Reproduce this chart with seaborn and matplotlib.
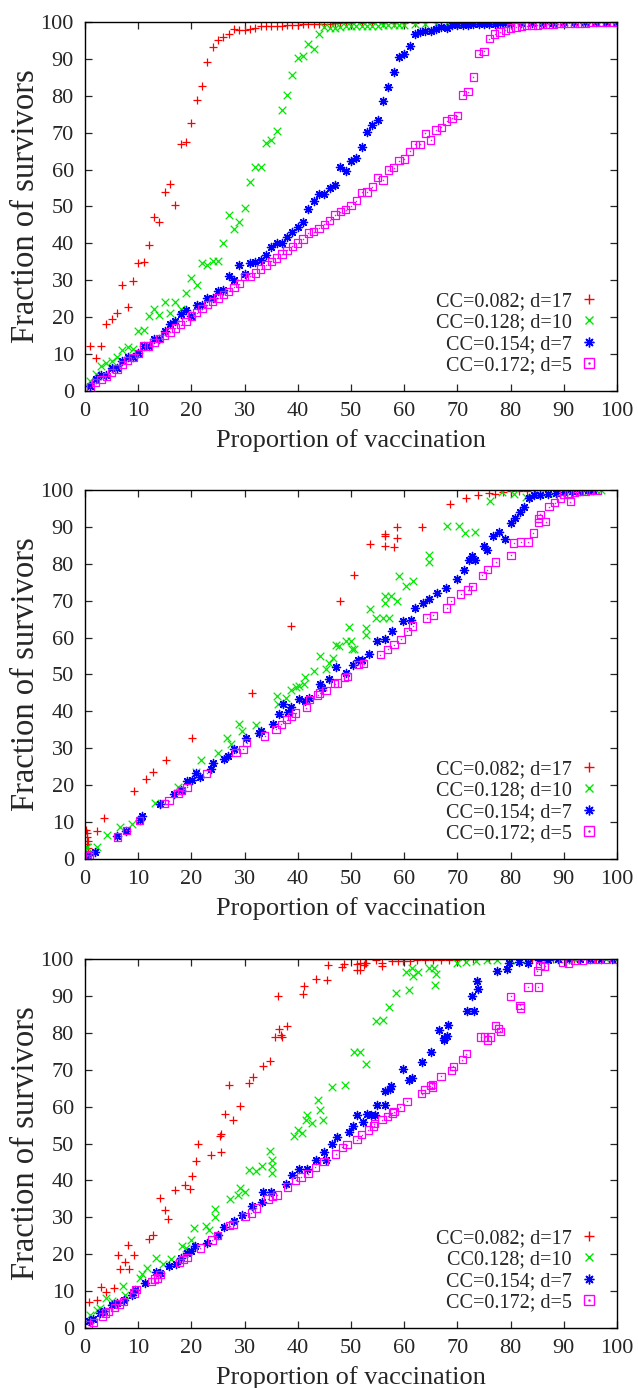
import matplotlib
matplotlib.use("Agg")
import matplotlib.pyplot as plt
from matplotlib.lines import Line2D
from matplotlib.legend_handler import HandlerTuple
import seaborn as sns

# ---- panel 1 ----
p1_red_x = [1,2,3,4,5,6,7,8,9,10,11,12,13,14,15,16,17,18,19,20,21,22,23,24,25,26,27,28,29,30,
            31,32,33,34,35,36,37,38,39,40,41,42,43,44,45,46,47,48,49,50,52,54,56,58,60,62,64,66,68,70,
            72,74,76,78,80,82,84,86,88,90,92,94,96,98,100]
p1_red_y = [12.2,9,12.2,18.2,19.4,21.2,28.8,22.8,29.7,34.7,35,39.5,47.1,45.9,53.8,56,50.5,66.9,67.6,72.5,
            78.8,82.6,89.2,93.2,95,95.9,96.6,98,97.7,97.7,98,98.4,98.8,98.8,98.8,99,99,99.2,99.2,99.2,
            99.4,99.4,99.4,99.5,99.5,99.5,99.6,99.6,99.6,99.7,99.7,99.7,99.8,99.8,99.8,99.8,99.9,99.9,99.9,99.9,
            99.9,99.9,100,100,100,100,100,100,100,100,100,100,100,100,100]

p1_green_x = [1,2,3,4,5,6,7,8,9,10,11,12,13,14,15,16,17,18,19,20,21,22,23,24,25,26,27,28,29,30,
              31,32,33,34,35,36,37,38,39,40,41,42,43,44,45,46,47,48,49,50,51,52,53,54,55,56,57,58,59,60,
              62,64,66,68,70,72,74,76,78,80,82,84,86,88,90,92,94,96,98,100]
p1_green_y = [2.7,4.5,6.8,7.7,8.1,9.2,11,12,11.4,16.2,16.4,20.3,22.1,20.5,24.1,21.2,24.1,22.3,26.6,30.6,
              28.6,34.7,34.2,35.3,35.3,40.1,47.7,43.9,45.8,49.5,56.5,60.8,60.8,67.1,68,70.5,76.1,80.2,85.6,90.1,
              90.7,94.1,92.8,96.6,98.6,98.4,98.4,98.6,98.9,98.9,99,99,99,99,99,99.1,99.1,99.2,99.2,99.3,
              99.4,99.5,99.5,99.6,99.7,99.7,99.8,99.8,99.9,99.9,99.9,100,100,100,100,100,100,100,100,100]

p1_blue_x = [1,2,3,4,5,6,7,8,9,10,11,12,13,14,15,16,17,18,19,20,21,22,23,24,25,26,27,28,29,30,
             31,32,33,34,35,36,37,38,39,40,41,42,43,44,45,46,47,48,49,50,51,52,53,54,55,56,57,58,59,60,
             61,62,63,64,65,66,67,68,69,70,71,72,73,74,75,76,77,78,79,80,82,84,86,88,90,92,94,96,98,100]
p1_blue_y = [1.4,3.2,4.2,4.2,6.1,6.1,8.1,9.3,9.3,10.4,12.3,12.3,14.2,14.2,16.2,18.2,19.1,20.9,21.9,20.3,
             23.2,23.2,25.2,25.2,27,27.5,31.1,30.2,34.1,31.8,34.7,35,35.6,36.8,39,40.1,40.1,41.6,43.2,44.4,
             45.9,49.3,51.6,53.4,53.4,55.1,55.9,60.6,59.7,62.4,63,66,70.3,72.1,73.3,78.6,82.4,86.5,90.4,91.2,
             93.5,96.8,97.3,97.5,97.6,98.2,98.6,98.4,99.1,99.2,99.3,99.3,99.4,99.4,99.5,99.5,99.5,99.6,99.6,99.6,
             99.7,99.7,99.8,99.8,99.9,99.9,99.9,100,100,100]

p1_mag_x = [1,2,3,4,5,6,7,8,9,10,11,12,13,14,15,16,17,18,19,20,21,22,23,24,25,26,27,28,29,30,
            31,32,33,34,35,36,37,38,39,40,41,42,43,44,45,46,47,48,49,50,51,52,53,54,55,56,57,58,59,60,
            61,62,63,64,65,66,67,68,69,70,71,72,73,74,75,76,77,78,79,80,81,82,83,84,85,86,87,88,89,90,
            91,92,93,94,95,96,97,98,99,100]
p1_mag_y = [1.1,2.3,3.2,4,5.1,6,7.2,8.3,9,10.1,12.2,12.2,13.2,14.2,15.1,16,17.1,18,18.9,20.3,
            21.2,22.3,23.4,24.3,25.2,26.1,27,28.1,29.1,31.1,31.1,32,33.1,34.1,35.1,36,37.1,38.1,39.2,40.1,
            41.2,42.8,43.2,44.1,45.2,46.2,47.7,48.6,49.1,50.2,51.6,53.8,53.9,55.4,57.8,57.2,59.9,60.5,62.4,62.9,
            64.9,66.8,66.8,69.8,68,70.7,71.4,73.2,73.9,74.6,80.2,81.1,85.1,91.4,92,95.5,96.7,97.3,97.7,98.4,
            98.6,98.8,99,99.1,99.2,99.3,99.4,99.4,99.5,99.5,99.6,99.6,99.7,99.7,99.8,99.8,99.9,99.9,100,100]

# ---- panel 2 ----
p2_red_x = [0.2,0.3,0.4,0.5,0.3,0.5,0.6,2.3,3.6,9.2,11.4,12.7,15.3,20.1,31.4,38.8,47.9,50.6,53.6,56.3,
            56.3,56.3,58.1,58.6,58.6,63.4,68.6,71.6,73.8,75.9,77,78.5,80,81.5,83,84.5,86]
p2_red_y = [8,7,6,5,4,3,2,7.7,11,18.5,21.6,23.7,26.8,32.7,45,63.1,70,77,85.3,84.9,
            87.4,88,84.5,87,89.9,90.1,96.1,97.9,98.6,99.1,98.9,99.4,99.6,99.7,99.8,99.9,100]

p2_green_x = [0,0.3,2.2,4.2,6.6,8.9,13.1,17.5,20.9,21.9,25,26.6,27.5,28.9,29.6,32.2,36.1,36.2,37.8,38.75,
              39.7,40.3,41.1,41.4,43.1,44.2,45.3,45.9,46.6,47.2,47.8,49.1,49.7,50.2,50,50.5,52.8,52.8,53.6,54.7,
              56,57.2,56.3,56.3,57.6,58.6,59.1,60.4,61.6,64.7,64.7,68.1,70.3,71.4,73.3,76.1,78.4,80.6,82.8,85.6,
              87,88.5,90,91.5,93,94.5,96,96.9]
p2_green_y = [2.3,3.2,3.3,6.6,8.7,9.6,15.3,19.4,23.7,26.8,28.8,32.9,31.3,36.5,34.7,36.3,44.1,41.9,43.7,45.7,
              46.6,46.8,47.5,49.3,50.9,55,51.4,53.2,54.5,58.1,57.7,59,62.8,56.8,59,56.8,62.6,60.8,67.8,65.3,
              65.3,65.3,69.4,71.2,71.2,69.8,76.6,74,75.4,82.3,80.5,90.2,90.2,88.3,88.7,97.1,99.4,98.9,98,98.9,
              99.2,99.3,99.5,99.6,99.7,99.8,99.9,100]

p2_blue_x = [0,0.3,1.9,6.1,7.8,10.3,10.8,14.1,16.7,18,19.1,20.2,20.9,21.7,23.6,24.1,26.1,26.9,28.1,30.2,
             32.8,33.1,35.3,36.4,37.2,38.1,38.75,40.3,41.3,42.2,44.1,44.6,45.8,47.2,49.1,50.3,51.25,52.1,53.4,54.9,
             56.3,57.8,59.7,61.3,62,63.6,64.7,66.2,67.9,69.9,71.3,72.25,72.8,73.4,75,75.5,76.75,77.8,78.9,80.1,
             80.9,81.75,82.5,83.4,84.4,85.6,87,88.5,90,91.5,93,94.5,95.5]
p2_blue_y = [0.5,0.9,2,6.3,7.7,10.5,11.7,15,17.7,18.6,21.2,21.4,23.4,22.1,24.5,26.1,27,27.9,29.9,32.7,
             34.2,34.7,36.5,39.4,41.9,39.9,41.2,43.4,42.8,43.7,47.5,46.4,48.9,51.9,50.5,52.7,53.8,53.8,55.6,59.2,
             59.5,61.7,64.4,64.9,67.9,69.4,70.5,72.1,73.4,75.9,78.2,81.1,82,81.1,84.7,83.8,87.4,88.5,86.7,91,
             92.3,94.1,95.5,97.7,98.6,98.6,99,99.2,99.4,99.6,99.8,99.9,100]

p2_mag_x = [0,0.4,0.9,6.1,7.8,10.2,15,15.8,17.5,18.1,19.2,22.9,28.4,29.7,30.4,33.8,35.9,36.9,37.9,38.8,
            39.6,41.6,42.2,43.75,44.1,45.3,46.9,47.5,48.75,49.4,51.4,52.4,55.5,56.9,58.1,59.4,60.6,61.6,64.25,65.5,
            68,68.75,70.6,71.9,72.8,74.7,75.6,77.2,80.1,80.6,81.9,83.25,84.25,85.2,86.6,85.3,85.6,87.2,88.3,89.4,
            91.25,90,91,92,93,94,95,96.25]
p2_mag_y = [0,0.9,1.1,6,7.8,10.4,15,15.8,17.7,18.5,19.4,23.2,28.8,29.7,31.5,33.3,35.1,36.5,37.8,38.7,
            39.6,41,43.2,44.4,45,45.7,47.5,47.7,49.1,49.5,52.7,52.9,55.4,56.8,58.1,59.5,61.7,63.1,65.3,66,
            68,70,71.8,72.9,73.9,76.9,78.4,80.5,82.3,85.6,85.9,85.9,88.3,91.2,91.4,92.3,93.4,95.5,96.6,97.7,
            96.8,98.9,99.2,99.4,99.6,99.7,99.9,100]

# ---- panel 3 ----
p3_red_x = [0.8,2.2,3.1,3.9,5.5,6.25,6.6,7.6,8.1,8.3,9.2,12,12.8,14.1,15.1,15.6,17,18.75,19.7,20.2,
            20.9,21.25,23.75,25.4,25.5,25.6,26.4,27,27.9,29.2,30.8,31.6,33.4,34.8,35.75,36.4,36.75,37.1,38,36.25,
            40.9,41.1,43.4,45.4,45.6,48.3,48.75,51.1,51.1,52.4,52.7,51.6,51.6,52.8,54.7,55.9,55.9,57.8,58.8,59.7,
            61,62.5,64,65.5,67,68.5,70,71.5,73,76,80,84,88,92,96,100]
p3_red_y = [7,7.5,11.1,9.8,10.8,19.9,16.1,17.8,22.4,16.1,19.7,24.2,25.3,35.2,32.1,29.6,37.5,38.8,37.7,41.3,
            45.3,50,47,52.1,52.7,47.6,58.1,65.8,56.5,60.1,66.4,67.9,70.9,72.4,78.9,80.9,79.5,78.8,81.9,90.1,
            90.6,92.6,94.6,94.2,98.3,97.9,98.6,98.7,96.9,98.4,98.9,98.9,97.1,98.9,99.8,98.9,98.2,99.4,99.4,99.4,
            99.5,99.6,99.6,99.7,99.7,99.8,99.8,99.9,99.9,100,100,100,100,100,100,100]

p3_green_x = [0.9,2.2,2.9,3.9,5,7.1,7.5,10.3,10.8,11.6,13.3,14.6,16.1,18.3,18.9,20,20.4,22.7,23.3,24.4,
              24.5,27.3,28.75,29.1,30,30.8,32.1,33.25,34.7,35.1,35.1,35.1,39.25,40,40.8,41.75,41.6,42.6,44.25,44.7,
              43.75,46.4,48.9,50.6,51.6,52.8,54.7,56.1,57.2,58.4,60.9,60.3,61.4,61.6,62.6,64.7,65.6,65.9,65.75,70,
              71.6,73.5,75.5,77.5,80,83,86,89,92,95,98,100]
p3_green_y = [3.4,5,5.4,8.1,7.4,11.3,9,13.6,14.7,16.3,19,17.4,18.8,22.1,21.7,23.8,27.1,27.7,26.6,30.1,
              32.2,35,36.1,37.9,36.9,42.7,42.5,43.8,48.1,45.4,43.8,42,52.1,53.7,52.8,57.8,56.3,55.6,59,56.5,
              61.7,65.3,65.8,74.7,74.7,71.6,83.1,83.4,87,90.8,91.5,96.4,97.6,95.3,96.6,97.6,97.6,96,93,98.9,
              99.3,99.5,99.6,99.8,99.8,99.9,99.9,100,100,100,100,100]

p3_blue_x = [0.8,1.6,2.8,3.6,5,6.1,7.3,8.9,9.4,11.25,13.3,14.1,15.8,17.2,18.1,19.2,20,20.6,22.9,25,
             26.1,28,29.6,31.4,33.3,33.4,35,37.8,38.9,40.3,41.75,43.4,45,45.3,46.4,47.4,49.6,50.4,51.1,52.3,
             53,53.75,54.6,54.9,56.4,56.4,57.4,57.6,59.7,60.9,61.4,63.3,65,66.6,67.5,68.1,68.25,67.4,71.75,73.1,
             72.7,73.9,73.75,77.5,79.4,79.7,81.6,83.25,85.3,87,89,91,93,95,97,99]
p3_blue_y = [1.8,2.4,4.1,4.5,6.3,6.8,7.7,9,10.4,12.2,15.1,14.9,16.9,17.3,19,20.3,21,22.3,23,25.3,
             27.4,28.9,30.5,33,34.1,36.8,36.8,39,41.6,43.2,43.1,45.6,47.6,45.6,50,51.8,53.1,54.7,57.8,55.8,
             58.1,57.8,57.8,60.5,60.5,64.1,64.8,65.5,70.2,67.1,67.8,72,74.7,80.7,78.6,79.2,82.2,78,85.8,85.8,
             89.9,91.9,94.1,96.7,97.3,98.9,99.1,98.9,99.8,99.8,99.9,99.9,100,100,100,100]

p3_mag_x = [0.6,1.6,3.3,3.9,4.4,5.6,6.4,7.2,9.2,9.6,12.5,13.1,13.6,14.1,17.8,18.4,19.2,21.7,23.9,24.9,
            27.2,27.8,30.1,31.25,32.2,34.4,35.2,36.1,38.1,39.6,40.6,41.9,43.3,44.9,47.1,48.4,49.25,51.1,52,53.25,
            54.25,54.4,55.8,56.9,57.8,58.1,59.25,60.5,63.3,63.9,64.9,65.3,65.3,66.9,68.9,69.25,70.9,71.7,74.4,75.1,
            75.7,76.25,77.2,77.7,78.1,80,81.75,81.9,83.3,85.2,85,85.5,86.4,89.7,90.9,92,93.5,95,96.5,98,100]
p3_mag_y = [0.9,1.5,3.2,4.1,4.5,5.6,6.5,7.2,9.5,10.4,12.6,13.3,13.6,14.5,17.8,18.5,19.2,21.7,23.9,25,
            27.7,28,30.3,31.2,32.5,35,35.7,36,38.2,40,40.9,41.8,43.5,45.2,47.2,49,49.7,51,52.4,53.7,
            54.7,55.4,56.5,57.4,58.3,58.6,59.8,61.4,63.5,64.6,65.7,66,65.3,68.2,69.8,70.9,72.7,74.3,78.9,78.9,
            78,78.9,82,81.2,80.4,89.9,87.4,86.7,92.4,92.4,96.7,98.3,98,99.1,98.9,99.5,99.6,99.8,99.9,100,100]

labels_a = ["CC=0.082; d=17", "CC=0.128; d=10", "CC=0.154; d=7", "CC=0.172; d=5"]
labels_c = ["CC=0.082; d=17", "CC0.128; d=10", "CC=0.154; d=7", "CC=0.172; d=5"]

panels = [
    [(p1_red_x, p1_red_y), (p1_green_x, p1_green_y), (p1_blue_x, p1_blue_y), (p1_mag_x, p1_mag_y), labels_a],
    [(p2_red_x, p2_red_y), (p2_green_x, p2_green_y), (p2_blue_x, p2_blue_y), (p2_mag_x, p2_mag_y), labels_a],
    [(p3_red_x, p3_red_y), (p3_green_x, p3_green_y), (p3_blue_x, p3_blue_y), (p3_mag_x, p3_mag_y), labels_c],
]

sns.set_style("ticks")
plt.rcParams["font.family"] = ["Liberation Serif", "DejaVu Serif"]
plt.rcParams["xtick.direction"] = "in"
plt.rcParams["ytick.direction"] = "in"
plt.rcParams["axes.linewidth"] = 1.0

RED = "#ff0000"
GREEN = "#00e600"
BLUE = "#0000ff"
MAG = "#ff00ff"
ASTER = (8, 2, 0)

fig = plt.figure(figsize=(6.38, 13.88), dpi=100)
bottoms = [0.7183, 0.3811, 0.0432]

for (red, green, blue, mag, labels), b in zip(panels, bottoms):
    ax = fig.add_axes([0.1332, b, 0.8339, 0.2659])
    sns.scatterplot(x=red[0], y=red[1], marker="+", color=RED, s=40, linewidth=0.9, ax=ax)
    sns.scatterplot(x=green[0], y=green[1], marker="x", color=GREEN, s=30, linewidth=0.9, ax=ax)
    sns.scatterplot(x=blue[0], y=blue[1], marker=ASTER, color=BLUE, s=34, linewidth=1.0, ax=ax)
    sns.scatterplot(x=mag[0], y=mag[1], marker="s", color=MAG, facecolor="none", edgecolor=MAG,
                    s=28, linewidth=0.9, ax=ax)
    sns.scatterplot(x=mag[0], y=mag[1], marker="o", color=MAG, edgecolor=MAG, s=0.6, linewidth=0.3, ax=ax)

    ax.set_xlim(0, 100)
    ax.set_ylim(0, 100)
    ax.set_xticks([0, 10, 20, 30, 40, 50, 60, 70, 80, 90, 100])
    ax.set_yticks([0, 10, 20, 30, 40, 50, 60, 70, 80, 90, 100])
    ax.tick_params(axis="both", which="major", labelsize=16, length=5, width=0.9,
                   top=True, right=True, pad=8)
    ax.set_xlabel("Proportion of vaccination", fontsize=19, labelpad=6)
    ax.set_ylabel("Fraction of survivors", fontsize=23.5)
    ax.yaxis.set_label_coords(-0.082, 0.5)
    for sp in ax.spines.values():
        sp.set_visible(True)
        sp.set_color("black")

    h_red = Line2D([], [], marker="+", color=RED, linestyle="none", markersize=7, markeredgewidth=1.0)
    h_green = Line2D([], [], marker="x", color=GREEN, linestyle="none", markersize=6, markeredgewidth=1.0)
    h_blue = Line2D([], [], marker=ASTER, color=BLUE, linestyle="none", markersize=7, markeredgewidth=1.0)
    h_sq = Line2D([], [], marker="s", color=MAG, markerfacecolor="none", linestyle="none",
                  markersize=6.5, markeredgewidth=1.0)
    h_dot = Line2D([], [], marker="o", color=MAG, linestyle="none", markersize=0.8)
    leg = ax.legend([h_red, h_green, h_blue, (h_sq, h_dot)], labels,
                    handler_map={tuple: HandlerTuple(ndivide=1)},
                    loc="lower right", bbox_to_anchor=(0.99, 0.005), frameon=False,
                    markerfirst=False, alignment="right", fontsize=14.5,
                    handlelength=0.9, handletextpad=0.4, labelspacing=0.11, borderpad=0.2)
    for t in leg.get_texts():
        t.set_ha("right")

fig.savefig("out.png", dpi=100)
